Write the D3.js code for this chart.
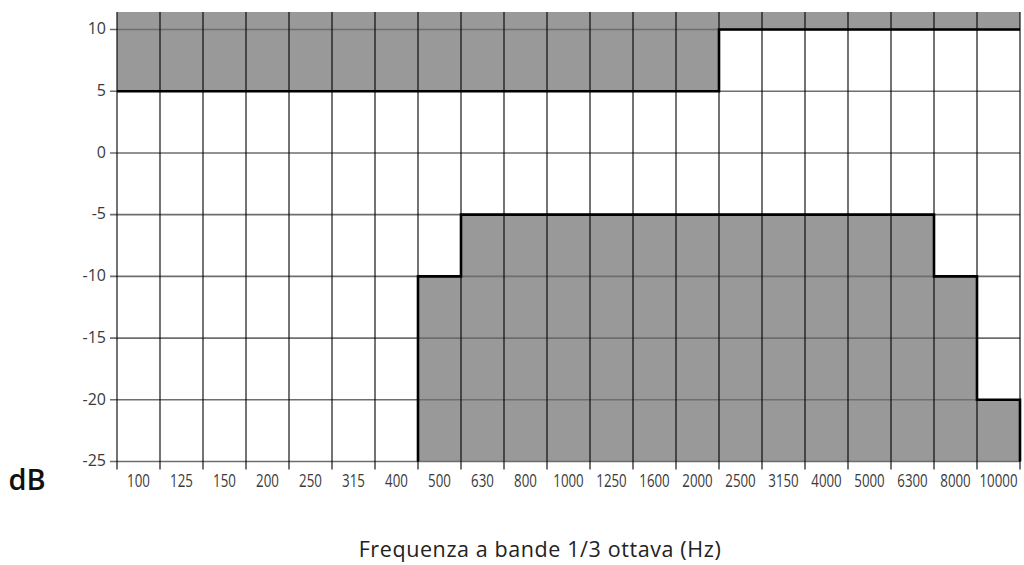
<!DOCTYPE html>
<html>
<head>
<meta charset="utf-8">
<script src="https://cdn.jsdelivr.net/npm/d3@7"></script>
<style>
  html, body { margin: 0; padding: 0; background: #fff; }
  svg { display: block; }
</style>
</head>
<body>
<svg id="chart" width="1024" height="565"></svg>
<script>
// ---- data ----
const categories = ["100","125","150","200","250","315","400","500","630","800","1000","1250","1600","2000","2500","3150","4000","5000","6300","8000","10000"];
// upper limit (shaded above this line)
const upperValues = [5,5,5,5,5,5,5,5,5,5,5,5,5,5,10,10,10,10,10,10,10];
// lower limit (shaded below this line); null = no band
const lowerValues = [null,null,null,null,null,null,null,-10,-5,-5,-5,-5,-5,-5,-5,-5,-5,-5,-5,-10,-20];
const yTicks = [10,5,0,-5,-10,-15,-20,-25];
const yLabel = "dB";
const xLabel = "Frequenza a bande 1/3 ottava (Hz)";

(function () {
// ---- layout ----
const pLeft = 117, pRight = 1020, pTop = 12, pBottom = 461.5;
const yMin = -25, yMax = 11.42;

const svg = d3.select("#chart");
const x = d3.scaleBand().domain(categories).range([pLeft, pRight]).padding(0);
const y = d3.scaleLinear().domain([yMin, yMax]).range([pBottom, pTop]);

// ---- shaded regions ----
const upperArea = d3.area()
  .curve(d3.curveStepAfter)
  .x(d => d.x)
  .y0(y(yMax))
  .y1(d => y(d.v));
const upperPts = categories.map((c, i) => ({x: x(c), v: upperValues[i]}));
upperPts.push({x: pRight, v: upperValues[upperValues.length - 1]});
svg.append("path").attr("d", upperArea(upperPts)).attr("fill", "#999999");

const lowerIdx = lowerValues.map((v, i) => v === null ? -1 : i).filter(i => i >= 0);
const lowerPts = lowerIdx.map(i => ({x: x(categories[i]), v: lowerValues[i]}));
lowerPts.push({x: pRight, v: lowerValues[lowerValues.length - 1]});
const lowerArea = d3.area()
  .curve(d3.curveStepAfter)
  .x(d => d.x)
  .y0(y(yMin))
  .y1(d => y(d.v));
svg.append("path").attr("d", lowerArea(lowerPts)).attr("fill", "#999999");

// ---- horizontal grid + y axis ----
const gy = svg.append("g");
gy.selectAll("line.h").data(yTicks).join("line")
  .attr("x1", pLeft - 7).attr("x2", pRight)
  .attr("y1", d => y(d)).attr("y2", d => y(d))
  .attr("stroke", "#6e6e6e").attr("stroke-width", 1.6);
gy.selectAll("text").data(yTicks).join("text")
  .attr("x", pLeft - 11).attr("y", d => y(d))
  .attr("dy", "0.3em")
  .attr("text-anchor", "end")
  .attr("font-family", "'Open Sans', sans-serif")
  .attr("font-size", 16)
  .attr("font-weight", 400)
  .attr("fill", "#3a3a3a")
  .text(d => d);

// ---- vertical grid + x axis ----
const bounds = categories.map(c => x(c)).concat([pRight]);
svg.append("g").selectAll("line").data(bounds).join("line")
  .attr("x1", d => d).attr("x2", d => d)
  .attr("y1", pTop).attr("y2", pBottom + 8)
  .attr("stroke", "#000").attr("stroke-width", 1.1);

svg.append("g").selectAll("text").data(categories).join("text")
  .attr("transform", d => `translate(${x(d) + x.bandwidth() / 2},487) scale(0.72,1)`)
  .attr("text-anchor", "middle")
  .attr("font-family", "'Open Sans', sans-serif")
  .attr("font-size", 18.5)
  .attr("font-weight", 400)
  .attr("fill", "#3a3a3a")
  .text(d => d);

// ---- step outlines ----
const stepLine = d3.line().curve(d3.curveStepAfter).x(d => d.x).y(d => y(d.v));
svg.append("path").attr("d", stepLine(upperPts))
  .attr("fill", "none").attr("stroke", "#000").attr("stroke-width", 2.6);

const lowerOutline = [{x: lowerPts[0].x, v: yMin}].concat(lowerPts).concat([{x: pRight, v: yMin}]);
const corners = [lowerOutline[0]];
for (let i = 1; i < lowerOutline.length; i++) {
  const prev = corners[corners.length - 1];
  const cur = lowerOutline[i];
  if (cur.x !== prev.x && cur.v !== prev.v) corners.push({x: cur.x, v: prev.v});
  corners.push(cur);
}
svg.append("path").attr("d", d3.line().x(d => d.x).y(d => y(d.v))(corners))
  .attr("fill", "none").attr("stroke", "#000").attr("stroke-width", 2.6);

// ---- axis titles ----
svg.append("text")
  .attr("x", 27).attr("y", 490)
  .attr("text-anchor", "middle")
  .attr("font-family", "'Open Sans', sans-serif")
  .attr("font-size", 29)
  .attr("font-weight", 600)
  .attr("fill", "#111")
  .text(yLabel);

svg.append("text")
  .attr("x", 540).attr("y", 557)
  .attr("text-anchor", "middle")
  .attr("font-family", "'Open Sans', sans-serif")
  .attr("font-size", 21.5)
  .attr("font-weight", 500)
  .attr("letter-spacing", 0.6)
  .attr("fill", "#222")
  .text(xLabel);
})();
</script>
</body>
</html>
